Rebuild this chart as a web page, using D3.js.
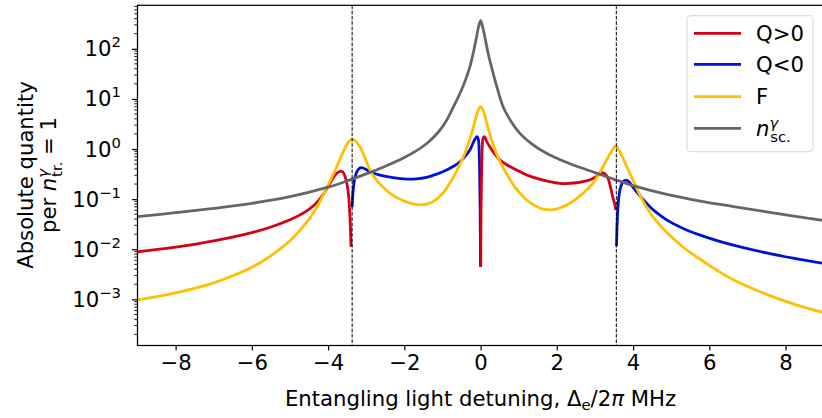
<!DOCTYPE html>
<html><head><meta charset="utf-8">
<script src="https://cdn.jsdelivr.net/npm/d3@7"></script>
<style>body{margin:0;background:#fff;} svg{display:block;font-family:"DejaVu Sans",sans-serif;}</style>
</head><body><svg id="c" width="822" height="418"></svg>
<script>
// ---- data (detuning in MHz, absolute quantity) ----
const xTicks = [-8, -6, -4, -2, 0, 2, 4, 6, 8];
const yTicks = [1e-3, 1e-2, 1e-1, 1, 10, 100];
const yTickExps = ["−3", "−2", "−1", "0", "1", "2"];
const resonances = [-3.37, 3.56];

const qPosLeft = [[-9,0.00883],[-8,0.01099],[-7,0.01466],[-6,0.02143],[-5.5,0.02777],[-5,0.03877],[-4.75,0.04797],[-4.5,0.06252],[-4.25,0.09354],[-4,0.1762],[-3.9,0.2432],[-3.8,0.3133],[-3.7,0.3556],[-3.65,0.3597],[-3.6,0.3388],[-3.55,0.2754],[-3.5,0.1905],[-3.46,0.1122],[-3.43,0.0501],[-3.4,0.01122]];
const qPosMid = [[0.003,0.00447],[0.012,0.0631],[0.025,0.316],[0.04,1.0],[0.06,1.585],[0.09,1.762],[0.12,1.679],[0.16,1.413],[0.24,1.109],[0.35,0.8414],[0.51,0.6026],[0.7,0.4786],[0.94,0.381],[1.25,0.2951],[1.64,0.2404],[2.08,0.2065],[2.52,0.2123],[2.8,0.2344],[2.96,0.26],[3.08,0.2951],[3.18,0.3365],[3.27,0.316],[3.35,0.2512],[3.42,0.1585],[3.48,0.1],[3.52,0.0794],[3.545,0.0605]];
const qNegMid = [[-3.37,0.0692],[-3.34,0.1585],[-3.3,0.263],[-3.25,0.3467],[-3.19,0.4074],[-3.12,0.4236],[-3,0.389],[-2.9,0.3524],[-2.64,0.3027],[-2.3,0.2692],[-1.94,0.2512],[-1.68,0.2541],[-1.42,0.2723],[-1.15,0.3162],[-0.89,0.381],[-0.7,0.4571],[-0.54,0.5585],[-0.4,0.7244],[-0.28,0.955],[-0.18,1.413],[-0.12,1.679],[-0.09,1.762],[-0.06,1.585],[-0.04,1.0],[-0.025,0.316],[-0.012,0.0631],[-0.003,0.00447]];
const qNegRight = [[3.565,0.0116],[3.59,0.0447],[3.62,0.1],[3.66,0.1585],[3.72,0.2138],[3.81,0.2404],[3.9,0.2188],[4,0.1718],[4.2,0.1122],[4.44,0.0708],[4.65,0.05117],[4.88,0.03864],[5.3,0.02624],[5.76,0.0191],[6.2,0.01489],[6.63,0.0121],[7.5,0.00843],[8.2,0.00662],[8.96,0.00527],[9,0.00522]];
const fidelity = [[-9,0.000977],[-8,0.001349],[-7,0.002138],[-6,0.004365],[-5.5,0.007413],[-5,0.01479],[-4.75,0.02344],[-4.5,0.03981],[-4.3,0.06761],[-4.15,0.1122],[-4,0.1905],[-3.9,0.2754],[-3.8,0.3981],[-3.7,0.6026],[-3.6,0.8913],[-3.5,1.259],[-3.43,1.479],[-3.37,1.585],[-3.27,1.413],[-3.16,1.096],[-3.03,0.6607],[-2.9,0.3802],[-2.75,0.2512],[-2.6,0.1862],[-2.4,0.1349],[-2.2,0.1072],[-2,0.0912],[-1.8,0.0813],[-1.55,0.0767],[-1.3,0.0851],[-1.15,0.1],[-1,0.1288],[-0.89,0.166],[-0.7,0.2884],[-0.54,0.5012],[-0.42,0.7943],[-0.29,1.514],[-0.22,2.239],[-0.15,3.548],[-0.07,5.754],[0,6.982],[0.07,5.754],[0.15,3.548],[0.22,2.239],[0.29,1.514],[0.42,0.7943],[0.54,0.5012],[0.7,0.302],[0.89,0.1778],[1,0.1413],[1.21,0.0959],[1.4,0.0759],[1.64,0.0631],[1.9,0.0617],[2.1,0.0676],[2.26,0.0762],[2.5,0.1],[2.78,0.152],[2.95,0.2089],[3.09,0.3027],[3.25,0.5012],[3.43,0.8913],[3.55,1.148],[3.65,0.8913],[3.74,0.6457],[3.85,0.4169],[4,0.2399],[4.18,0.1202],[4.36,0.0676],[4.6,0.0372],[4.88,0.02188],[5.3,0.01122],[5.76,0.00631],[6.2,0.0038],[6.63,0.002455],[7.5,0.001259],[8.2,0.000813],[8.96,0.000562],[9,0.00056]];
const nScattered = [[-9,0.04457],[-8,0.0537],[-7,0.06546],[-6,0.0824],[-5,0.1117],[-4,0.173],[-3.5,0.2307],[-3,0.3184],[-2.5,0.455],[-2,0.6808],[-1.7,0.9099],[-1.42,1.274],[-1.1,2.213],[-0.89,3.767],[-0.7,7.244],[-0.54,12.94],[-0.4,23.44],[-0.28,43.95],[-0.18,91.2],[-0.105,173.8],[-0.05,281.8],[0,363.9],[0.05,281.8],[0.11,173.8],[0.2,79.43],[0.33,32.36],[0.45,15.14],[0.59,6.982],[0.8,3.548],[1.03,2.056],[1.35,1.259],[1.73,0.8204],[2.1,0.6026],[2.52,0.4519],[3,0.3388],[3.5,0.2483],[4,0.1862],[4.8,0.1288],[5.76,0.0914],[6.6,0.07178],[7.5,0.05598],[8.96,0.03802],[9,0.0379]];

const colors = {qpos:"#d40018", qneg:"#0010d4", f:"#ffc000", n:"#666666"};

// ---- chart ----
const svg = d3.select("#c");
const L = 137.5, R = 823.7, T = 5.3, B = 345.5;
const x = d3.scaleLinear().domain([-9, 9]).range([L, R]);
const y = d3.scaleLog().domain([1.2e-4, 738]).range([B, T]);
const FS = 21.2;

svg.append("defs").append("clipPath").attr("id","clip")
  .append("rect").attr("x",L).attr("y",T).attr("width",R-L).attr("height",B-T);

const line = d3.line().x(d=>x(d[0])).y(d=>y(d[1])).curve(d3.curveCatmullRom.alpha(0.5));
const g = svg.append("g").attr("clip-path","url(#clip)");
const series = [
  [qNegMid, colors.qneg],[qNegRight, colors.qneg],
  [qPosLeft, colors.qpos],[qPosMid, colors.qpos],
  [fidelity, colors.f],[nScattered, colors.n]
];
series.forEach(([d,c]) => g.append("path").attr("d", line(d)).attr("fill","none")
  .attr("stroke", c).attr("stroke-width", 2.8).attr("stroke-linejoin","round"));

// dashed resonance lines
g.selectAll("line.res").data(resonances).enter().append("line")
  .attr("x1", d=>x(d)).attr("x2", d=>x(d)).attr("y1", T).attr("y2", B)
  .attr("stroke","#000").attr("stroke-width",1).attr("stroke-dasharray","3.7,1.6");

// x axis
const xAxis = d3.axisBottom(x).tickValues(xTicks).tickSize(5).tickPadding(4)
  .tickFormat(d => d < 0 ? "−" + Math.abs(d) : String(d));
const gx = svg.append("g").attr("transform",`translate(0,${B})`).call(xAxis);
gx.select(".domain").remove();
gx.selectAll("line").attr("stroke","#000").attr("stroke-width",1.2);
gx.selectAll("text").attr("font-size",FS).attr("fill","#000").attr("font-family","DejaVu Sans");

// y axis major
const yAxis = d3.axisLeft(y).tickValues(yTicks).tickSize(5.5).tickPadding(4).tickFormat(()=>"");
const gy = svg.append("g").attr("transform",`translate(${L},0)`).call(yAxis);
gy.select(".domain").remove();
gy.selectAll("line").attr("stroke","#000").attr("stroke-width",1.2);
// minor ticks
const minor = [];
for (let e = -4; e <= 2; e++) for (let m = 2; m <= 9; m++) { const v = m * Math.pow(10, e); if (v >= 1.2e-4 && v <= 738) minor.push(v); }
svg.append("g").selectAll("line").data(minor).enter().append("line")
  .attr("x1", L-3.2).attr("x2", L).attr("y1", d=>y(d)).attr("y2", d=>y(d))
  .attr("stroke","#000").attr("stroke-width",0.9);
// y tick labels
yTicks.forEach((v,i) => {
  const t = svg.append("text").attr("x", L-16.5).attr("y", y(v)+7.5)
    .attr("text-anchor","end").attr("font-size",FS).attr("fill","#000");
  t.append("tspan").text("10");
  t.append("tspan").attr("dy",-9).attr("font-size",FS*0.7).text(yTickExps[i]);
});

// frame
svg.append("rect").attr("x",L).attr("y",T).attr("width",R-L).attr("height",B-T)
  .attr("fill","none").attr("stroke","#000").attr("stroke-width",1.25);

// x label
const xl = svg.append("text").attr("x", 480.5).attr("y", 406).attr("text-anchor","middle")
  .attr("font-size",FS).attr("fill","#000");
xl.append("tspan").text("Entangling light detuning, Δ");
xl.append("tspan").attr("font-size",FS*0.7).attr("dy",4).text("e");
xl.append("tspan").attr("dy",-4).text("/2");
xl.append("tspan").attr("font-style","italic").text("π");
xl.append("tspan").text(" MHz");

// y label
const yl = svg.append("g").attr("transform","translate(33,175) rotate(-90)");
yl.append("text").attr("text-anchor","middle").attr("font-size",FS).attr("fill","#000").text("Absolute quantity");
const yl2 = yl.append("text").attr("y",23).attr("text-anchor","middle").attr("font-size",FS).attr("fill","#000");
yl2.append("tspan").text("per ");
yl2.append("tspan").attr("font-style","italic").text("n");
yl2.append("tspan").attr("font-size",FS*0.7).attr("font-style","italic").attr("dy",-8).text("γ");
yl2.append("tspan").attr("font-size",FS*0.7).attr("dx",-8).attr("dy",14).text("tr.");
yl2.append("tspan").attr("dy",-6).text(" = 1");

// legend
const lg = svg.append("g");
lg.append("rect").attr("x",687).attr("y",15.7).attr("width",126).attr("height",136).attr("rx",4)
  .attr("fill","#fff").attr("fill-opacity",0.8).attr("stroke","#d6d6d6").attr("stroke-width",1);
const legendItems = [["Q>0",colors.qpos],["Q<0",colors.qneg],["F",colors.f],["n",colors.n]];
const legendY = [33.3, 64.3, 96.7, 128.3];
legendItems.forEach(([lab,c],i) => {
  lg.append("line").attr("x1",694).attr("x2",741).attr("y1",legendY[i]).attr("y2",legendY[i])
    .attr("stroke",c).attr("stroke-width",2.8);
  const t = lg.append("text").attr("x",756).attr("y",legendY[i]+7.5).attr("font-size",FS).attr("fill","#000");
  if (lab === "n") {
    t.append("tspan").attr("font-style","italic").text("n");
    t.append("tspan").attr("font-size",FS*0.7).attr("font-style","italic").attr("dy",-8).text("γ");
    t.append("tspan").attr("font-size",FS*0.7).attr("dx",-8).attr("dy",14).text("sc.");
  } else t.text(lab);
});
</script></body></html>
